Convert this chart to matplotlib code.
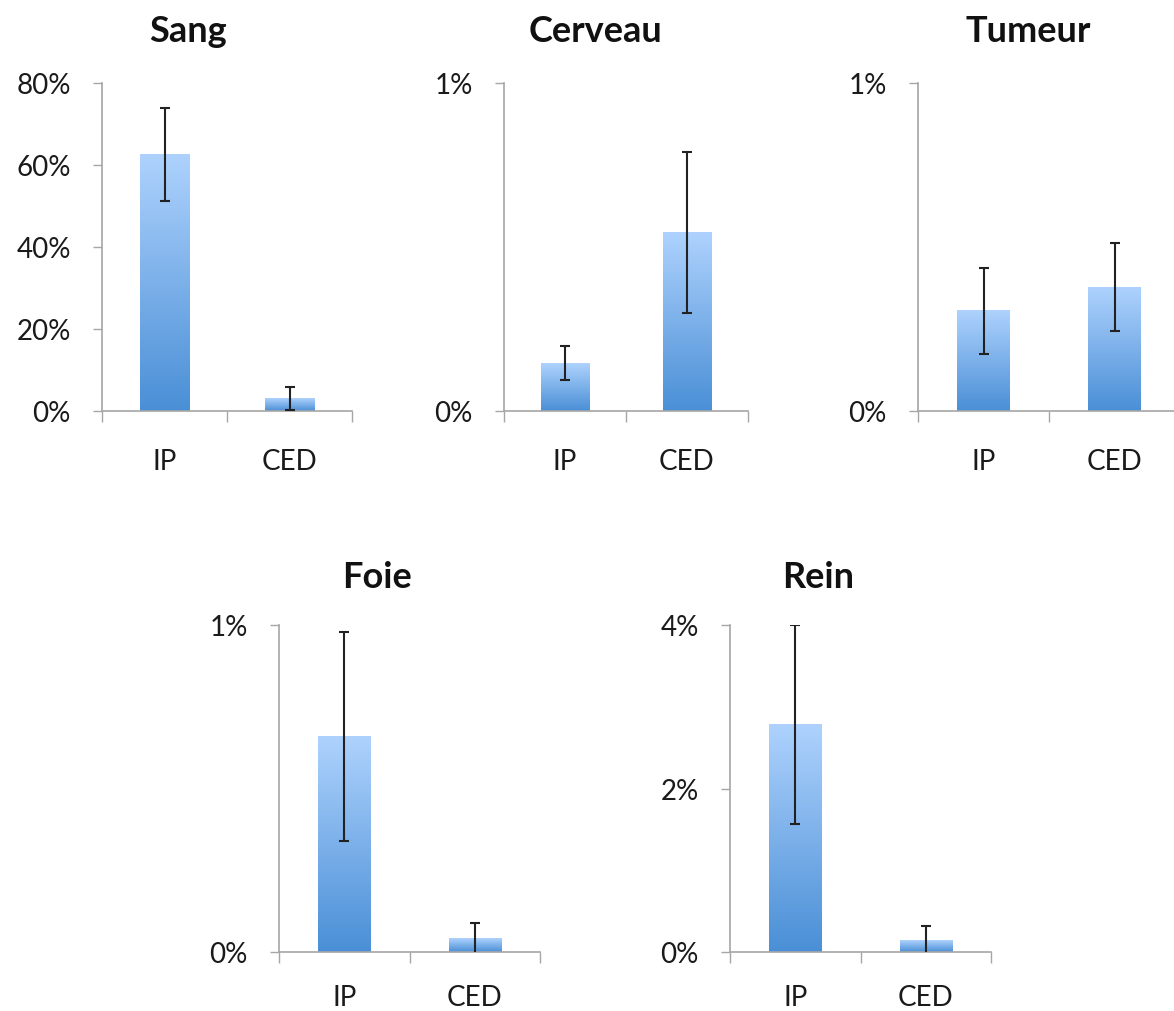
import numpy as np
import matplotlib
matplotlib.use('Agg')
import matplotlib.pyplot as plt
from matplotlib.colors import LinearSegmentedColormap

plt.rcParams['font.family'] = ['Lato', 'DejaVu Sans']

# Data (% de la dose injectée)
categories = ['IP', 'CED']
organs = ['Sang', 'Cerveau', 'Tumeur', 'Foie', 'Rein']
sang_vals = [62.5, 3.0]
sang_err = [11.3, 2.8]
cerveau_vals = [0.145, 0.545]
cerveau_err = [0.052, 0.245]
tumeur_vals = [0.305, 0.378]
tumeur_err = [0.13, 0.135]
foie_vals = [0.659, 0.04]
foie_err = [0.321, 0.048]
rein_vals = [2.78, 0.135]
rein_err = [1.22, 0.183]
y_max = [80, 1, 1, 1, 4]
y_ticks = [[0, 20, 40, 60, 80], [0, 1], [0, 1], [0, 1], [0, 2, 4]]

all_vals = [sang_vals, cerveau_vals, tumeur_vals, foie_vals, rein_vals]
all_errs = [sang_err, cerveau_err, tumeur_err, foie_err, rein_err]

# Layout in pixels: (left, top, right, bottom) and title centres
W, H = 1174, 1012
boxes = [(102, 84, 352, 412), (504, 84, 748, 412), (918, 84, 1180, 412),
         (279, 626, 540, 953), (730, 626, 991, 953)]
title_pos = [(188, 31), (595, 31), (1028, 31), (377, 578), (818, 578)]
xlabel_pad = [27, 27, 27, 23, 23]

grad = LinearSegmentedColormap.from_list('bleu', ['#4a8fd6', '#aed2fd'])
grad_img = np.linspace(0, 1, 256).reshape(-1, 1)

fig = plt.figure(figsize=(W / 100, H / 100), dpi=100)

for i, name in enumerate(organs):
    l, t, r, b = boxes[i]
    ax = fig.add_axes([l / W, 1 - b / H, (r - l) / W, (b - t) / H])
    x = np.arange(len(categories))
    bars = ax.bar(x, all_vals[i], width=0.4, color='none', edgecolor='none')
    # gradient fill for each bar
    for p in bars:
        bx, by, bw, bh = p.get_x(), p.get_y(), p.get_width(), p.get_height()
        ax.imshow(grad_img, extent=[bx, bx + bw, by, by + bh], origin='lower',
                  aspect='auto', cmap=grad, zorder=2, interpolation='bilinear')
    ax.errorbar(x, all_vals[i], yerr=all_errs[i], fmt='none', ecolor='#222222',
                elinewidth=1.5, capsize=3.8, capthick=1.5, zorder=3)

    ax.set_xlim(-0.5, len(categories) - 0.5)
    ax.set_ylim(0, y_max[i])
    ax.set_yticks(y_ticks[i])
    ax.set_yticklabels([f'{v}%' for v in y_ticks[i]])
    ax.set_xticks(x)
    ax.set_xticklabels(categories)
    ax.set_xticks(np.arange(len(categories) + 1) - 0.5, minor=True)

    for s in ['top', 'right']:
        ax.spines[s].set_visible(False)
    for s in ['left', 'bottom']:
        ax.spines[s].set_color('#a6a6a6')
        ax.spines[s].set_linewidth(1.2)
    ax.tick_params(axis='y', direction='out', length=6.5, width=1.0, color='#a6a6a6',
                   labelcolor='#1a1a1a', labelsize=20, pad=16)
    ax.tick_params(axis='x', which='major', length=0, labelcolor='#1a1a1a',
                   labelsize=20, pad=xlabel_pad[i])
    ax.tick_params(axis='x', which='minor', direction='out', length=8, width=1.0,
                   color='#a6a6a6')

    tx, ty = title_pos[i]
    fig.text(tx / W, 1 - ty / H, name, ha='center', va='center',
             fontsize=26, fontweight='bold', color='#111111')

fig.savefig('out.png', dpi=100)
